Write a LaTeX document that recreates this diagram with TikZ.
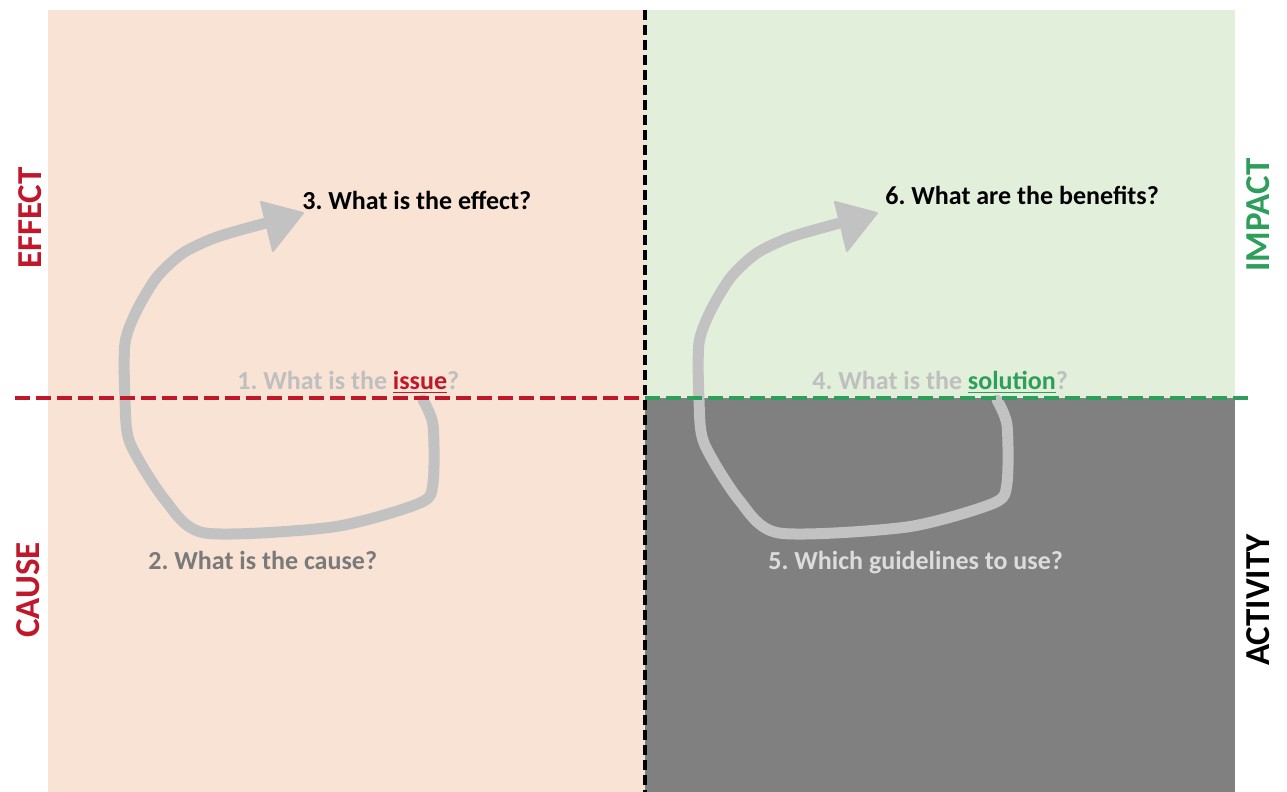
\documentclass[tikz,border=0pt]{standalone}
\usepackage{fontspec}
\setmainfont{Carlito}
\definecolor{peach}{HTML}{F8E3D5}
\definecolor{mint}{HTML}{E2EFDA}
\definecolor{slate}{HTML}{808080}
\definecolor{brick}{HTML}{C0182A}
\definecolor{leaf}{HTML}{2E9E5B}
\definecolor{loopgray}{HTML}{C2C2C2}
\definecolor{fadegray}{HTML}{BFBFBF}
\definecolor{midgray}{HTML}{7A7A7A}
\definecolor{palegray}{HTML}{DCDCDC}
\frenchspacing
\begin{document}
\begin{tikzpicture}[x=0.5pt,y=-0.5pt,
  question/.style={font=\bfseries\fontsize{13}{15}\selectfont, anchor=west, inner sep=0pt},
  sidelabel/.style={font=\bfseries\fontsize{17.5}{20}\selectfont, rotate=90, inner sep=0pt},
  loopline/.style={draw=loopgray, line width=5.5pt, line join=round, line cap=round},
  loophead/.style={fill=loopgray, draw=loopgray, line join=round, line width=1pt},
  divider/.style={line width=2pt}]
\useasboundingbox (0,0) rectangle (1287,792);
\fill[white] (0,0) rectangle (1287,792);

% quadrants
\fill[peach] (48,10) rectangle (645,792);
\fill[mint] (645,10) rectangle (1235,398);
\fill[slate] (645,398) rectangle (1235,792);

% looping arrows (left: cause side, right: activity side)
\foreach \dx in {0,574}{
  \begin{scope}[xshift=\dx*0.5pt]
    \draw[loopline] plot[smooth, tension=0.45] coordinates {
      (423,400) (433,425) (433,483) (420,503) (333,527) (205,533)
      (165,500) (130,443) (125,400) (125,343) (137,310) (157,277)
      (183,253) (217,237) (266,223)};
    \filldraw[loophead] (303,213) -- (261,202) -- (273,251) -- cycle;
  \end{scope}
}

% dividers
\draw[divider, brick, dash pattern=on 7.5pt off 3pt] (15,398) -- (645,398);
\draw[divider, leaf, dash pattern=on 7.5pt off 3pt] (645,398) -- (1250,398);
\draw[divider, black, dash pattern=on 5pt off 2.5pt] (645,10) -- (645,792);

% side labels
\node[sidelabel, text=brick] (effect) at (30,218) {EFFECT};
\node[sidelabel, text=brick] (cause) at (28,590) {CAUSE};
\node[sidelabel, text=leaf] (impact) at (1258,215) {IMPACT};
\node[sidelabel, text=black] (activity) at (1258,600) {ACTIVITY};

% questions
\node[question, text=fadegray] (q1) at (237,382) {1. What is the \textcolor{brick}{\underline{issue}}?};
\node[question, text=midgray] (q2) at (148,560) {2. What is the cause?};
\node[question, text=black] (q3) at (302,200) {3. What is the effect?};
\node[question, text=fadegray] (q4) at (812,382) {4. What is the \textcolor{leaf}{\underline{solution}}?};
\node[question, text=palegray] (q5) at (768,563) {5. Which guidelines to use?};
\node[question, text=black] (q6) at (885,195) {6. What are the benefits?};
\end{tikzpicture}
\end{document}
